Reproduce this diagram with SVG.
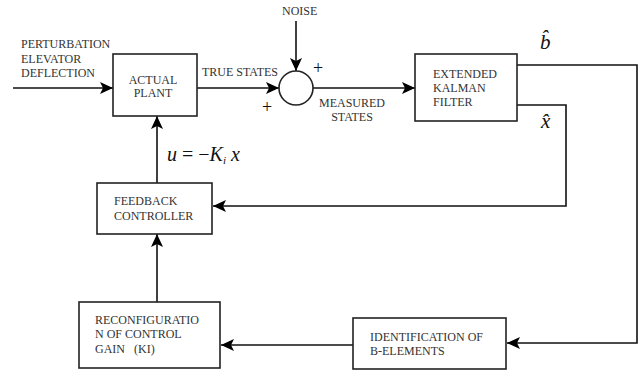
<svg xmlns="http://www.w3.org/2000/svg" width="640" height="371" viewBox="0 0 640 371">
<defs>
<style>
.box{fill:#fff;stroke:#222;stroke-width:1.6}
.ln{fill:none;stroke:#111;stroke-width:1.6}
text{font-family:"Liberation Serif","Tinos","Times New Roman","DejaVu Serif","Noto Serif",serif;font-size:12px;fill:#333}
.m{font-style:italic;fill:#111}
</style>
<marker id="ah" markerUnits="userSpaceOnUse" markerWidth="14" markerHeight="12" refX="13" refY="6" orient="auto">
<path d="M0,0 L13,6 L0,12 L3,6 Z" fill="#000"/>
</marker>
</defs>
<rect width="640" height="371" fill="#fff"/>
<g id="connectors">
<line class="ln" x1="13" y1="88" x2="113" y2="88" marker-end="url(#ah)"/>
<line class="ln" x1="197" y1="88" x2="279" y2="88" marker-end="url(#ah)"/>
<line class="ln" x1="296" y1="21" x2="296" y2="71" marker-end="url(#ah)"/>
<line class="ln" x1="313" y1="88" x2="415" y2="88" marker-end="url(#ah)"/>
<polyline class="ln" points="517,65 637,65 637,343 507,343" marker-end="url(#ah)"/>
<polyline class="ln" points="517,105 566,105 566,206 213,206" marker-end="url(#ah)"/>
<line class="ln" x1="353" y1="345" x2="221" y2="345" marker-end="url(#ah)"/>
<line class="ln" x1="157" y1="302" x2="157" y2="234" marker-end="url(#ah)"/>
<line class="ln" x1="157" y1="183" x2="157" y2="116" marker-end="url(#ah)"/>
</g>
<g id="inputs">
<text x="21" y="48">PERTURBATION</text>
<text x="21" y="63">ELEVATOR</text>
<text x="21" y="77">DEFLECTION</text>
<text x="202" y="76">TRUE STATES</text>
<text x="282" y="15">NOISE</text>
<text x="352" y="107" text-anchor="middle">MEASURED</text>
<text x="352" y="121" text-anchor="middle">STATES</text>
<text x="267" y="113" text-anchor="middle" style="font-size:18px;fill:#111">+</text>
<text x="318" y="74" text-anchor="middle" style="font-size:18px;fill:#111">+</text>
</g>
<g id="actual-plant">
<rect class="box" x="113" y="54" width="84" height="62"/>
<text x="153" y="84" text-anchor="middle">ACTUAL</text>
<text x="153" y="97" text-anchor="middle">PLANT</text>
</g>
<g id="sum">
<circle class="box" cx="296" cy="88" r="17"/>
</g>
<g id="ekf">
<rect class="box" x="415" y="54" width="102" height="67"/>
<text x="433" y="78">EXTENDED</text>
<text x="433" y="92">KALMAN</text>
<text x="433" y="106">FILTER</text>
</g>
<g id="labels">
<text class="m" x="540" y="49" style="font-size:21px">b̂</text>
<text class="m" x="541" y="128" style="font-size:21px">x̂</text>
<text class="m" x="167" y="161" style="font-size:20px">u<tspan style="font-style:normal"> = −</tspan>K<tspan style="font-size:11px" dy="3">i</tspan><tspan dy="-3"> x</tspan></text>
</g>
<g id="feedback-controller">
<rect class="box" x="97" y="183" width="115" height="51"/>
<text x="114" y="205">FEEDBACK</text>
<text x="114" y="220">CONTROLLER</text>
</g>
<g id="reconfiguration">
<rect class="box" x="79" y="302" width="141" height="66"/>
<text x="95" y="324">RECONFIGURATIO</text>
<text x="95" y="338">N OF CONTROL</text>
<text x="95" y="353" xml:space="preserve">GAIN   (KI)</text>
</g>
<g id="identification">
<rect class="box" x="353" y="318" width="153" height="51"/>
<text x="370" y="341">IDENTIFICATION OF</text>
<text x="370" y="355">B-ELEMENTS</text>
</g>
</svg>
